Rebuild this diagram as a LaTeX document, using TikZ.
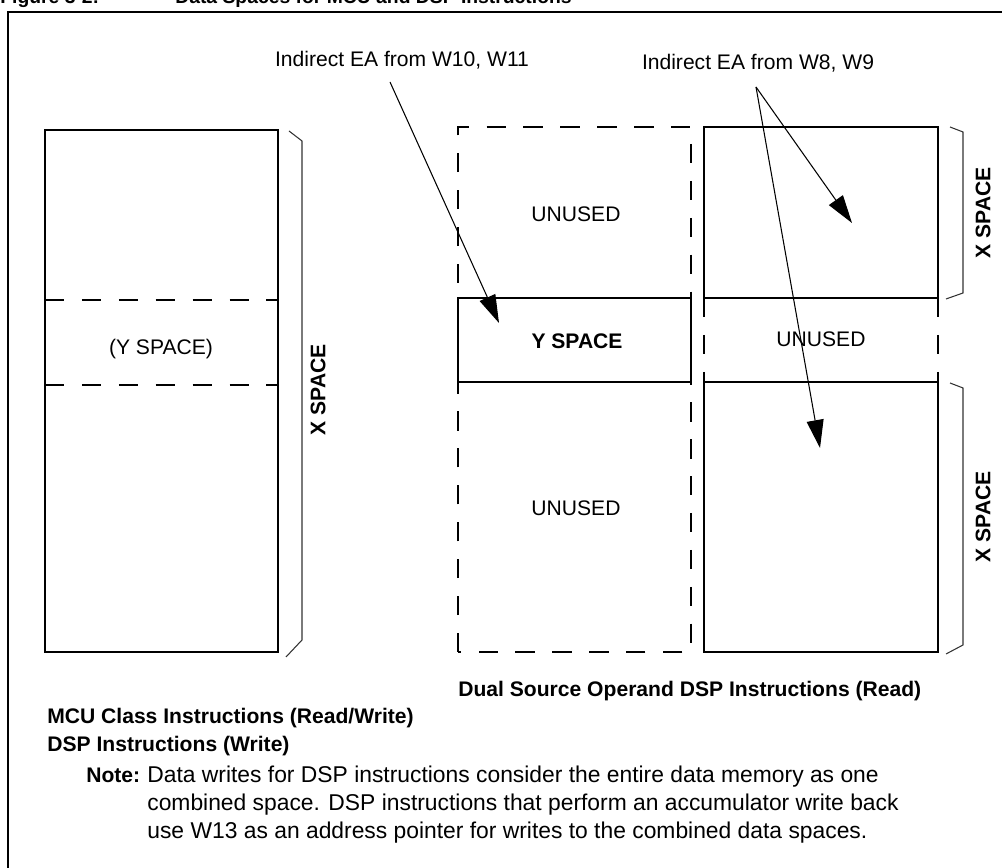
\documentclass[tikz,border=0pt]{standalone}
\usepackage{fontspec}
\setmainfont{Liberation Sans}
\usetikzlibrary{arrows.meta, positioning}
\definecolor{bracegray}{RGB}{50, 50, 50}
\tikzset{
  memsolid/.style={draw=black, line width=1.1pt},
  memdash/.style={draw=black, line width=1.1pt, dash pattern=on 11pt off 10pt},
  spacebrace/.style={draw=bracegray, line width=0.6pt},
  ptr/.style={-{Triangle[length=0.56cm, width=0.34cm]}, line width=0.6pt},
  lbl/.style={font=\fontsize{12}{15.6}\selectfont, inner sep=0pt},
  blbl/.style={font=\fontsize{12}{15.6}\selectfont\bfseries, inner sep=0pt},
  notelbl/.style={font=\fontsize{13}{15.6}\selectfont, inner sep=0pt},
}

\begin{document}
\begin{tikzpicture}
        \useasboundingbox (0,0) rectangle (20.04,17.36);
        % figure title and frame (cut by the page)
        \node[blbl, font=\fontsize{11}{14}\selectfont\bfseries, anchor=base west] (figno) at (0,17.28) {Figure 3-2:};
        \node[blbl, font=\fontsize{11}{14}\selectfont\bfseries, anchor=base west] (figttl) at (3.5,17.28) {Data Spaces for MCU and DSP Instructions};
        \draw[line width=1.4pt] (0.16,-0.3) rectangle (20.4,17.12);

        % MCU view: one X space, Y space inside
        \draw[memsolid] (0.9,4.32) rectangle (5.56,14.76);
        \draw[memdash] (0.9,11.36) -- (5.56,11.36);
        \draw[memdash] (0.9,9.66) -- (5.56,9.66);
        \node[lbl, anchor=base] (ymcu) at (3.22,10.27) {(Y SPACE)};
        \draw[spacebrace] (5.78,14.74) -- (6.04,14.54) -- (6.04,4.56) -- (5.72,4.22);
        \node[blbl, rotate=90] (xmcu) at (6.36,9.56) {X SPACE};

        % DSP view: Y bus column
        \draw[memdash] (9.16,4.32) rectangle (13.82,14.82);
        \draw[memsolid] (9.16,9.72) rectangle (13.82,11.40);
        \node[lbl, anchor=base] (yunused1) at (11.52,12.93) {UNUSED};
        \node[blbl, anchor=base] (ydsp) at (11.54,10.39) {Y SPACE};
        \node[lbl, anchor=base] (yunused2) at (11.52,7.05) {UNUSED};

        % DSP view: X bus column
        \draw[memsolid] (14.08,11.40) rectangle (18.76,14.82);
        \draw[memsolid] (14.08,4.32) rectangle (18.76,9.72);
        \draw[memdash] (14.08,11.40) -- (14.08,9.72);
        \draw[memdash] (18.76,11.40) -- (18.76,9.72);
        \node[lbl, anchor=base] (xunused) at (16.42,10.43) {UNUSED};
        \draw[spacebrace] (19.0,14.82) -- (19.26,14.72) -- (19.26,11.5) -- (18.92,11.38);
        \node[blbl, rotate=90] (xdsp1) at (19.66,13.10) {X SPACE};
        \draw[spacebrace] (19.0,9.70) -- (19.26,9.60) -- (19.26,4.46) -- (18.92,4.28);
        \node[blbl, rotate=90] (xdsp2) at (19.66,7.02) {X SPACE};

        % pointer labels and arrows
        \node[lbl, anchor=base] (eaw10) at (8.04,16.02) {Indirect EA from W10, W11};
        \node[lbl, anchor=base] (eaw8) at (15.16,15.96) {Indirect EA from W8, W9};
        \coordinate (w10src) at (7.80,15.72);
        \coordinate (w10tip) at (9.98,10.90);
        \coordinate (w8src) at (15.12,15.62);
        \coordinate (w8tipa) at (17.04,12.90);
        \coordinate (w8tipb) at (16.40,8.40);
        \draw[ptr] (w10src) -- (w10tip);
        \draw[ptr] (w8src) -- (w8tipa);
        \draw[ptr] (w8src) -- (w8tipb);

        % captions
        \node[blbl, anchor=base west] (mcucap) at (0.94,2.88) {MCU Class Instructions (Read/Write)};
        \node[blbl, anchor=base west] (mcucap2) at (0.94,2.32) {DSP Instructions (Write)};
        \node[blbl, anchor=base west] (dspcap) at (9.16,3.42) {Dual Source Operand DSP Instructions (Read)};

        % note
        \node[blbl, anchor=base west] (notehd) at (1.72,1.70) {Note:};
        \node[notelbl, anchor=base west] (notetx1) at (2.94,1.70) {Data writes for DSP instructions consider the entire data memory as one};
        \node[notelbl, anchor=base west] (notetx2) at (2.94,1.14) {combined space. DSP instructions that perform an accumulator write back};
        \node[notelbl, anchor=base west] (notetx3) at (2.94,0.59) {use W13 as an address pointer for writes to the combined data spaces.};
\end{tikzpicture}
\end{document}
